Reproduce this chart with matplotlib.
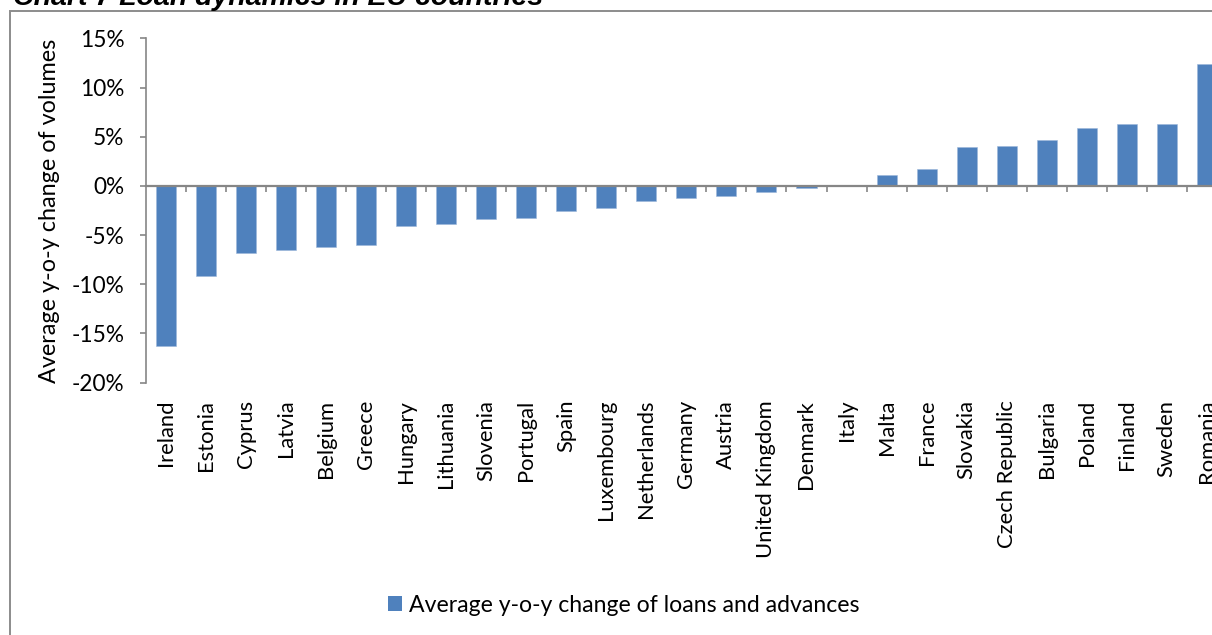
import matplotlib
matplotlib.use("Agg")
import matplotlib.pyplot as plt
import matplotlib.patches as mpatches
from matplotlib.ticker import FuncFormatter
import numpy as np

countries = ["Ireland", "Estonia", "Cyprus", "Latvia", "Belgium", "Greece", "Hungary",
             "Lithuania", "Slovenia", "Portugal", "Spain", "Luxembourg", "Netherlands",
             "Germany", "Austria", "United Kingdom", "Denmark", "Italy", "Malta", "France",
             "Slovakia", "Czech Republic", "Bulgaria", "Poland", "Finland", "Sweden", "Romania"]
loan_change = [-16.3, -9.15, -6.8, -6.55, -6.2, -6.0, -4.1,
               -3.9, -3.4, -3.3, -2.55, -2.25, -1.5,
               -1.2, -1.05, -0.6, -0.2, 0.0, 1.1, 1.7,
               3.95, 4.08, 4.65, 5.9, 6.3, 6.33, 12.4]
y_ticks = [-20, -15, -10, -5, 0, 5, 10, 15]

series_name = "Average y-o-y change of loans and advances"
y_title = "Average y-o-y change of volumes"
chart_title = "Chart 7 Loan dynamics in EU countries"

BAR = "#4F81BD"
AXC = "#868686"
FONT = ["Lato", "DejaVu Sans"]

W, H = 1212, 635
fig = plt.figure(figsize=(W / 100, H / 100), dpi=100)
fig.patch.set_facecolor("white")

left_px, right_px = 146, 146 + 27 * 40.03
top_px, bot_px = 38.4, 382.5
ax = fig.add_axes([left_px / W, 1 - bot_px / H, (right_px - left_px) / W, (bot_px - top_px) / H])

x = np.arange(len(countries))
ax.bar(x, loan_change, width=0.5, color=BAR, edgecolor="#9DB7DA", linewidth=0.4, zorder=3)

ax.set_xlim(-0.5, len(countries) - 0.5)
ax.set_ylim(-20, 15)
ax.set_yticks(y_ticks)
ax.yaxis.set_major_formatter(FuncFormatter(lambda v, p: f"{v:.0f}%"))

for s in ["top", "right"]:
    ax.spines[s].set_visible(False)
ax.spines["left"].set_color(AXC)
ax.spines["left"].set_linewidth(1.2)
ax.spines["bottom"].set_position(("data", 0))
ax.spines["bottom"].set_color(AXC)
ax.spines["bottom"].set_linewidth(1.6)
ax.spines["bottom"].set_zorder(4)

ax.set_xticks(np.arange(0.5, len(countries) - 1, 1))
ax.tick_params(axis="x", which="major", direction="out", length=4.5, width=1.2,
               color=AXC, labelbottom=False)
ax.tick_params(axis="y", direction="out", length=4.5, width=1.2, color=AXC, pad=11,
               labelsize=16.3)
for lab in ax.get_yticklabels():
    lab.set_family(FONT)

ax.set_ylabel(y_title, fontsize=16.8, family=FONT, labelpad=8)

sec = ax.secondary_xaxis("bottom")
sec.set_xticks(x, labels=countries, rotation=90, fontsize=15.8, family=FONT)
sec.tick_params(axis="x", length=0, pad=12.5)
sec.spines["bottom"].set_visible(False)

# outer chart frame
frame = mpatches.Rectangle((10 / W, -0.2), 2.0, (1 - 11 / H) + 0.2, transform=fig.transFigure,
                           fill=False, edgecolor="#8C8C8C", linewidth=1.4)
fig.patches.append(frame)

fig.text(13 / W, 1 - 5 / H, chart_title, fontsize=20.5, fontweight="bold", fontstyle="italic",
         family=["Liberation Sans", "DejaVu Sans"], va="baseline", ha="left")

handle = mpatches.Patch(facecolor=BAR, edgecolor="none", label=series_name)
fig.legend(handles=[handle], loc="center", bbox_to_anchor=(624 / W, 1 - 605 / H),
           frameon=False, prop={"family": FONT, "size": 16.6}, handlelength=0.6,
           handleheight=0.6, handletextpad=0.3, borderaxespad=0)

fig.savefig("out.png", dpi=100, facecolor="white")
